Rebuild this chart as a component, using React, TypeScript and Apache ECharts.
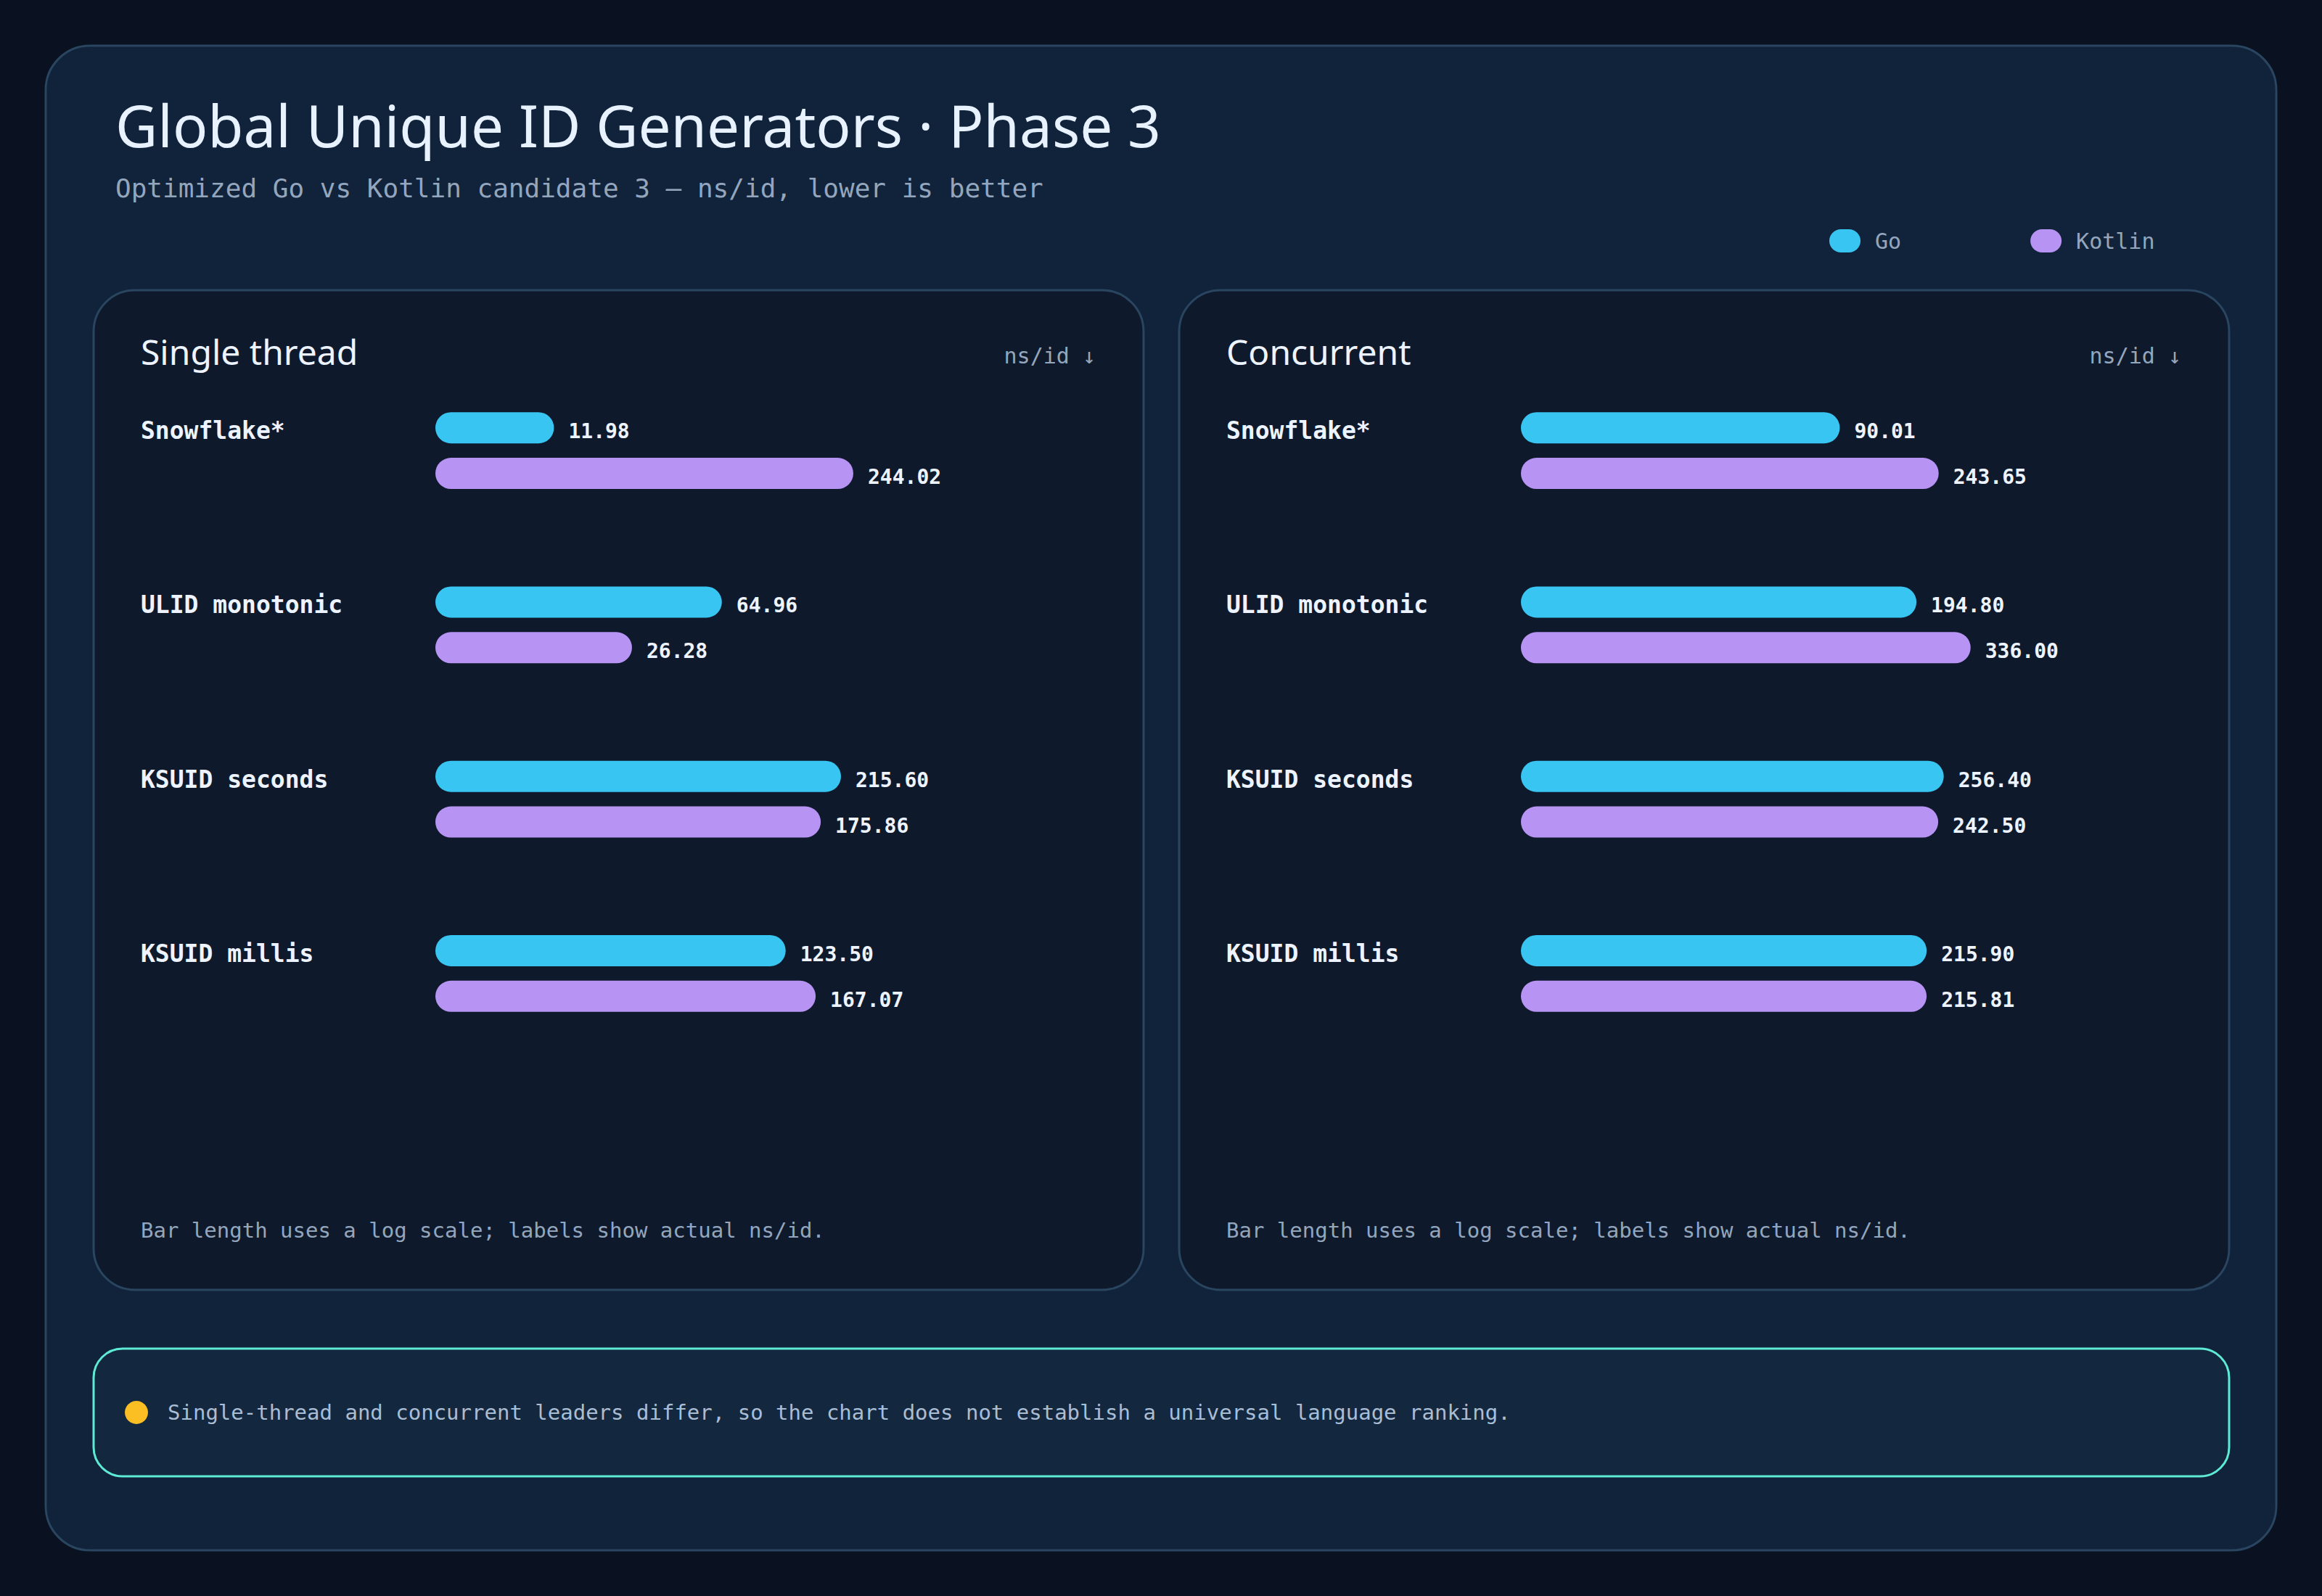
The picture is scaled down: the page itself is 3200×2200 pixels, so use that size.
import React, { useEffect, useRef } from 'react';
import * as echarts from 'echarts';

const categories = ['Snowflake*', 'ULID monotonic', 'KSUID seconds', 'KSUID millis'];
const singleGo = [11.98, 64.96, 215.6, 123.5];
const singleKotlin = [244.02, 26.28, 175.86, 167.07];
const concurrentGo = [90.01, 194.8, 256.4, 215.9];
const concurrentKotlin = [243.65, 336.0, 242.5, 215.81];
const languages = ['Go', 'Kotlin'];
const panelTitles = ['Single thread', 'Concurrent'];

const GO = '#38c5f2';
const KOTLIN = '#b794f4';
const MONO = '"DejaVu Sans Mono", "Liberation Mono", monospace';
const HAND = '"Noto Sans", Lato, sans-serif';
const MUTED = '#94a6bd';
const BRIGHT = '#eef4ff';

const W = 3200;
const H = 2200;
const PANEL_X = [129, 1625];
const PANEL_Y = 400;
const PANEL_W = 1447;
const PANEL_H = 1378;
const BAR_LEFT = 471; // from panel edge
const GRID_TOP = 501;
const GRID_H = 961;
const GRID_W = 769;

function buildOption(): echarts.EChartsOption {
  const grids = PANEL_X.map((px) => ({
    left: px + BAR_LEFT,
    top: GRID_TOP,
    width: GRID_W,
    height: GRID_H,
  }));

  const xAxes = PANEL_X.map((_, i) => ({
    type: 'log' as const,
    gridIndex: i,
    min: 3.63,
    max: 1000,
    startValue: 3.63,
    axisLine: { show: false },
    axisTick: { show: false },
    axisLabel: { show: false },
    splitLine: { show: false },
  }));

  const yAxes = PANEL_X.map((_, i) => ({
    type: 'category' as const,
    gridIndex: i,
    data: categories,
    inverse: true,
    axisLine: { show: false },
    axisTick: { show: false },
    splitLine: { show: false },
    axisLabel: {
      align: 'left' as const,
      verticalAlign: 'bottom' as const,
      lineHeight: 55,
      margin: 406,
      color: BRIGHT,
      fontFamily: MONO,
      fontWeight: 'bold' as const,
      fontSize: 33,
    },
  }));

  const barBase = {
    type: 'bar' as const,
    barWidth: 43,
    barGap: '46%',
    itemStyle: { borderRadius: 21.5 },
    label: {
      show: true,
      position: 'right' as const,
      distance: 20,
      offset: [0, 5],
      color: BRIGHT,
      fontFamily: MONO,
      fontWeight: 'bold' as const,
      fontSize: 28,
      formatter: (p: any) => Number(p.value).toFixed(2),
    },
  };

  const series = [
    { ...barBase, name: 'Go', xAxisIndex: 0, yAxisIndex: 0, data: singleGo, itemStyle: { ...barBase.itemStyle, color: GO } },
    { ...barBase, name: 'Kotlin', xAxisIndex: 0, yAxisIndex: 0, data: singleKotlin, itemStyle: { ...barBase.itemStyle, color: KOTLIN } },
    { ...barBase, name: 'Go', xAxisIndex: 1, yAxisIndex: 1, data: concurrentGo, itemStyle: { ...barBase.itemStyle, color: GO } },
    { ...barBase, name: 'Kotlin', xAxisIndex: 1, yAxisIndex: 1, data: concurrentKotlin, itemStyle: { ...barBase.itemStyle, color: KOTLIN } },
  ];

  const panelElements: any[] = [];
  PANEL_X.forEach((px, i) => {
    panelElements.push(
      {
        type: 'rect',
        shape: { x: px, y: PANEL_Y, width: PANEL_W, height: PANEL_H, r: 57 },
        style: { fill: '#0e1a2c', stroke: '#2a4560', lineWidth: 3 },
      },
      {
        type: 'text',
        x: px + 65,
        y: 484,
        style: { text: panelTitles[i], fill: BRIGHT, fontSize: 48, fontFamily: HAND, textVerticalAlign: 'middle' },
      },
      {
        type: 'text',
        x: px + 1381,
        y: 490,
        style: { text: 'ns/id ↓', fill: MUTED, fontSize: 30, fontFamily: MONO, textAlign: 'right', textVerticalAlign: 'middle' },
      },
      {
        type: 'text',
        x: px + 65,
        y: 1696,
        style: {
          text: 'Bar length uses a log scale; labels show actual ns/id.',
          fill: MUTED,
          fontSize: 29,
          fontFamily: MONO,
          textVerticalAlign: 'middle',
        },
      },
    );
  });

  return {
    animation: false,
    backgroundColor: '#0a1120',
    legend: {
      data: languages,
      left: 2516,
      top: 311,
      itemWidth: 43,
      itemHeight: 32,
      itemGap: 178,
      icon: 'path://M16,0 H27 A16,16 0 0 1 27,32 H16 A16,16 0 0 1 16,0 Z',
      textStyle: { color: MUTED, fontFamily: MONO, fontSize: 30, padding: [0, 0, 0, 15] },
      selectedMode: false,
    },
    graphic: [
      {
        type: 'rect',
        shape: { x: 63, y: 63, width: 3074, height: 2074, r: 61 },
        style: { fill: '#10233a', stroke: '#2a4560', lineWidth: 3 },
      },
      {
        type: 'text',
        x: 159,
        y: 171,
        style: {
          text: 'Global Unique ID Generators · Phase 3',
          fill: '#e8f2ff',
          fontSize: 80,
          fontFamily: HAND,
          textVerticalAlign: 'middle',
        },
      },
      {
        type: 'text',
        x: 159,
        y: 259,
        style: {
          text: 'Optimized Go vs Kotlin candidate 3 — ns/id, lower is better',
          fill: MUTED,
          fontSize: 36,
          fontFamily: MONO,
          textVerticalAlign: 'middle',
        },
      },
      ...panelElements,
      {
        type: 'rect',
        shape: { x: 129, y: 1859, width: 2943, height: 176, r: 40 },
        style: { fill: '#13283f', stroke: '#5eead4', lineWidth: 3 },
      },
      {
        type: 'circle',
        shape: { cx: 188, cy: 1947, r: 16 },
        style: { fill: '#fbbf24' },
      },
      {
        type: 'text',
        x: 231,
        y: 1947,
        style: {
          text: 'Single-thread and concurrent leaders differ, so the chart does not establish a universal language ranking.',
          fill: '#a9bdd4',
          fontSize: 29,
          fontFamily: MONO,
          textVerticalAlign: 'middle',
        },
      },
    ],
    grid: grids,
    xAxis: xAxes,
    yAxis: yAxes,
    series,
  } as echarts.EChartsOption;
}

export default function App() {
  const ref = useRef<HTMLDivElement>(null);

  useEffect(() => {
    document.body.style.margin = '0';
    document.body.style.background = '#0a1120';
    if (!ref.current) return;
    const chart = echarts.init(ref.current, null, { renderer: 'svg' });
    chart.setOption(buildOption());
    return () => chart.dispose();
  }, []);

  return <div ref={ref} style={{ width: W, height: H }} />;
}
